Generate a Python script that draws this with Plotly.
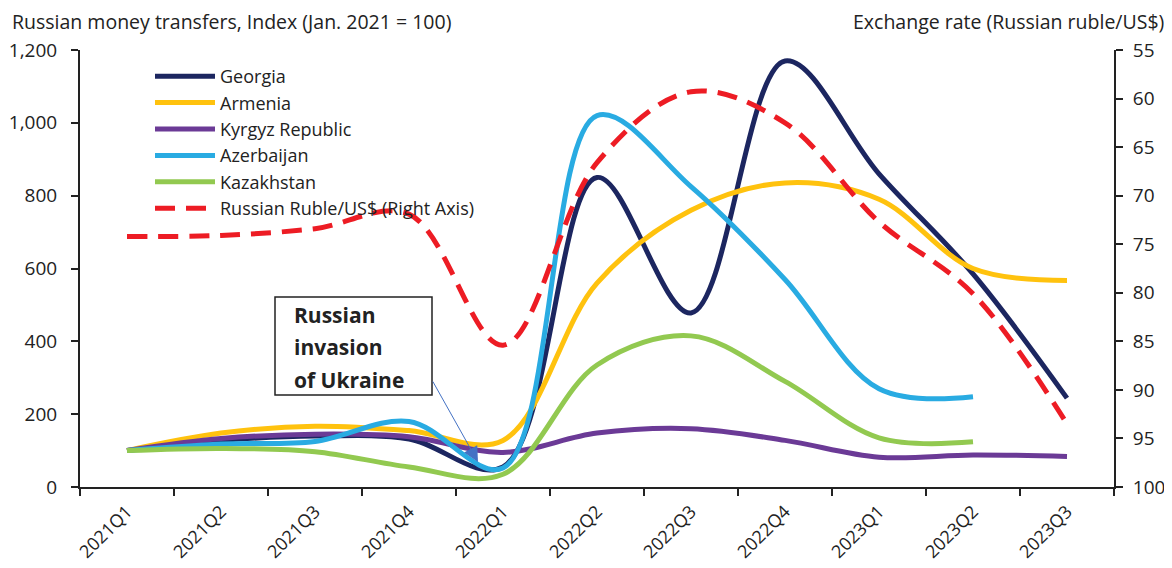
import plotly.graph_objects as go

quarters = ["2021Q1", "2021Q2", "2021Q3", "2021Q4", "2022Q1", "2022Q2",
            "2022Q3", "2022Q4", "2023Q1", "2023Q2", "2023Q3"]

georgia = [100, 128, 140, 132, 55, 850, 478, 1170, 860, 585, 244]
armenia = [100, 148, 167, 155, 128, 560, 760, 835, 790, 600, 567]
kyrgyz = [100, 133, 145, 138, 95, 148, 160, 128, 82, 88, 84]
azerbaijan = [100, 118, 125, 180, 52, 1020, 825, 570, 270, 248]
kazakhstan = [100, 106, 97, 55, 35, 335, 415, 290, 135, 124]
ruble = [74.2, 74.1, 73.4, 71.9, 85.4, 66.6, 59.3, 62.5, 72.7, 80.1, 93.5]

series = [
    ("Georgia", georgia, "#1C2660"),
    ("Armenia", armenia, "#FFC20E"),
    ("Kyrgyz Republic", kyrgyz, "#6B3A96"),
    ("Azerbaijan", azerbaijan, "#29ABE2"),
    ("Kazakhstan", kazakhstan, "#92C950"),
]

FONT = "Open Sans"
TXT = "#222222"

# page has an 8px body margin; figure drawn 8px right/down
W, H = 1164, 560
L, R, T, B = 72, 58, 42, 81
PW = W - L - R
PH = H - T - B


def px(xp):  # page x -> paper fraction
    return (xp - 8 - L) / PW


def py(yp):  # page y -> paper fraction
    return 1 - (yp - 8 - T) / PH


fig = go.Figure()
for name, vals, col in series:
    fig.add_trace(go.Scatter(
        x=quarters[:len(vals)], y=vals, name=name, mode="lines",
        line=dict(color=col, width=5, shape="spline", smoothing=1.0),
    ))
fig.add_trace(go.Scatter(
    x=quarters, y=ruble, name="Russian Ruble/US$ (Right Axis)", mode="lines",
    yaxis="y2",
    line=dict(color="#ED1C24", width=5, shape="spline", smoothing=1.0, dash="20px,11px"),
))

fig.update_layout(
    width=W, height=H,
    margin=dict(l=L, r=R, t=T, b=B),
    paper_bgcolor="white", plot_bgcolor="white",
    font=dict(family=FONT, size=18, color=TXT),
    showlegend=True,
    legend=dict(x=px(150), y=py(58), xanchor="left", yanchor="top",
                bgcolor="rgba(0,0,0,0)", font=dict(size=18, color=TXT),
                tracegroupgap=0, itemwidth=60),
    xaxis=dict(
        type="category", categoryorder="array", categoryarray=quarters,
        tickson="boundaries", ticks="outside", ticklen=7, tickwidth=2,
        tickcolor="#222", showline=True, linecolor="#222", linewidth=2,
        showgrid=False, tickangle=-45, tickfont=dict(size=18, color=TXT),
        range=[-0.5, 10.5], zeroline=False, automargin=False,
        ticklabelstandoff=5,
    ),
    yaxis=dict(
        range=[0, 1200], dtick=200, tickformat=",", ticks="outside",
        ticklen=7, tickwidth=2, tickcolor="#222", showline=True,
        linecolor="#222", linewidth=2, showgrid=False, zeroline=False,
        tickfont=dict(size=19, color=TXT), ticklabelstandoff=10,
        automargin=False,
    ),
    yaxis2=dict(
        overlaying="y", side="right", range=[100, 55], dtick=5,
        ticks="outside", ticklen=7, tickwidth=2, tickcolor="#222",
        showline=True, linecolor="#222", linewidth=2, showgrid=False,
        zeroline=False, tickfont=dict(size=19, color=TXT),
        ticklabelstandoff=6, automargin=False,
    ),
)

# axis titles placed at top
fig.add_annotation(text="Russian money transfers, Index (Jan. 2021 = 100)",
                   xref="paper", yref="paper", x=px(10), y=py(21),
                   xanchor="left", yanchor="middle", showarrow=False,
                   font=dict(size=19.5, color=TXT, family=FONT))
fig.add_annotation(text="Exchange rate (Russian ruble/US$)",
                   xref="paper", yref="paper", x=px(1166), y=py(21),
                   xanchor="right", yanchor="middle", showarrow=False,
                   font=dict(size=19.5, color=TXT, family=FONT))

# invasion annotation box
fig.add_shape(type="rect", xref="paper", yref="paper",
              x0=px(275), x1=px(432), y0=py(395), y1=py(297),
              line=dict(color="#222", width=1.5), fillcolor="rgba(0,0,0,0)")
for txt, yy in [("Russian", 315), ("invasion", 347), ("of Ukraine", 380)]:
    fig.add_annotation(text="<b>%s</b>" % txt,
                       xref="paper", yref="paper", x=px(292), y=py(yy),
                       xanchor="left", yanchor="middle", align="left",
                       showarrow=False,
                       font=dict(size=21, color=TXT, family=FONT))
# arrow from box to dip
fig.add_annotation(text="", xref="paper", yref="paper",
                   x=px(478), y=py(462),
                   ax=-46, ay=-82, axref="pixel", ayref="pixel",
                   showarrow=True, arrowhead=2, arrowsize=3, arrowwidth=1,
                   arrowcolor="#4472C4")

fig.write_html("out.html")
